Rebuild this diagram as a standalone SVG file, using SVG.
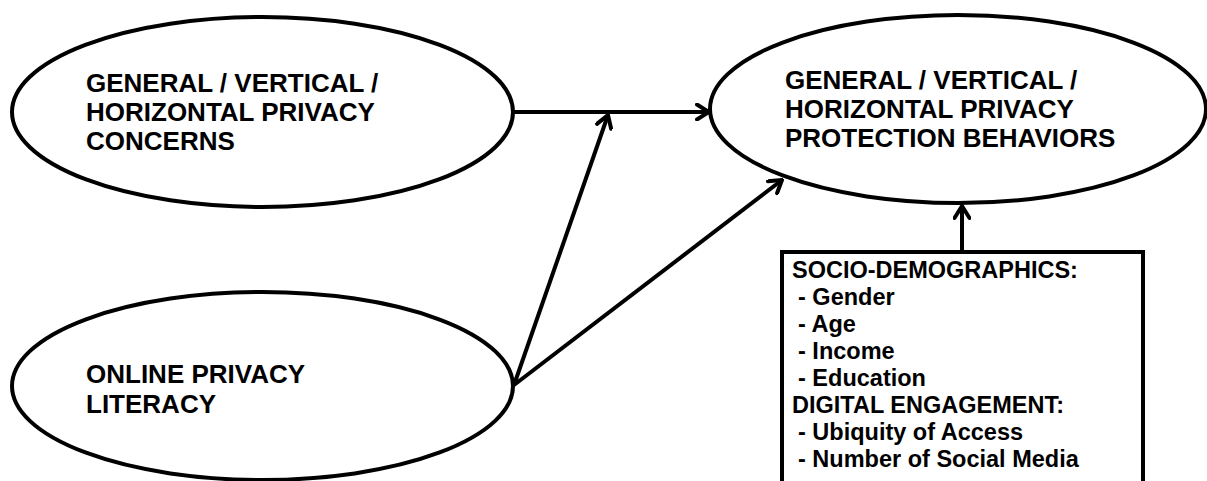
<svg xmlns="http://www.w3.org/2000/svg" width="1207" height="481" viewBox="0 0 1207 481">
<style>
.shape{fill:#fff;stroke:#000;stroke-width:4}
.big{font-family:"Liberation Sans",Arial,sans-serif;font-weight:bold;font-size:26px;fill:#000}
.small{font-family:"Liberation Sans",Arial,sans-serif;font-weight:bold;font-size:23.5px;fill:#000}
.edge{stroke:#000;stroke-width:4;fill:none;marker-end:url(#arr)}
</style>
<defs>
<marker id="arr" viewBox="0 0 18 18" refX="16" refY="9" markerWidth="18" markerHeight="18" markerUnits="userSpaceOnUse" orient="auto">
<path d="M4,1.5 L16,9 L4,16.5" fill="none" stroke="#000" stroke-width="4" stroke-linecap="round" stroke-linejoin="miter"/>
</marker>
</defs>
<rect width="1207" height="481" fill="#fff"/>
<g id="connectors">
<line class="edge" x1="514" y1="112" x2="709" y2="112"/>
<line class="edge" x1="514" y1="385" x2="608" y2="115"/>
<line class="edge" x1="514" y1="385" x2="782" y2="180"/>
<line class="edge" x1="962" y1="251" x2="962" y2="206"/>
</g>
<g id="concerns">
<ellipse class="shape" cx="262.5" cy="112" rx="250.5" ry="95"/>
<text class="big" x="86" y="92">GENERAL / VERTICAL /</text>
<text class="big" x="86" y="121">HORIZONTAL PRIVACY</text>
<text class="big" x="86" y="150">CONCERNS</text>
</g>
<g id="behaviors">
<ellipse class="shape" cx="958" cy="109" rx="248" ry="94"/>
<text class="big" x="785" y="89">GENERAL / VERTICAL /</text>
<text class="big" x="785" y="118">HORIZONTAL PRIVACY</text>
<text class="big" x="785" y="147">PROTECTION BEHAVIORS</text>
</g>
<g id="literacy">
<ellipse class="shape" cx="262.5" cy="386" rx="250.5" ry="94"/>
<text class="big" x="86" y="383">ONLINE PRIVACY</text>
<text class="big" x="86" y="413">LITERACY</text>
</g>
<g id="controls">
<rect class="shape" x="782" y="252" width="361" height="260"/>
<text class="small" x="792" y="278">SOCIO-DEMOGRAPHICS:</text>
<text class="small" x="798" y="305">- Gender</text>
<text class="small" x="798" y="332">- Age</text>
<text class="small" x="798" y="359">- Income</text>
<text class="small" x="798" y="386">- Education</text>
<text class="small" x="792" y="413">DIGITAL ENGAGEMENT:</text>
<text class="small" x="798" y="440">- Ubiquity of Access</text>
<text class="small" x="798" y="467">- Number of Social Media</text>
</g>
</svg>
